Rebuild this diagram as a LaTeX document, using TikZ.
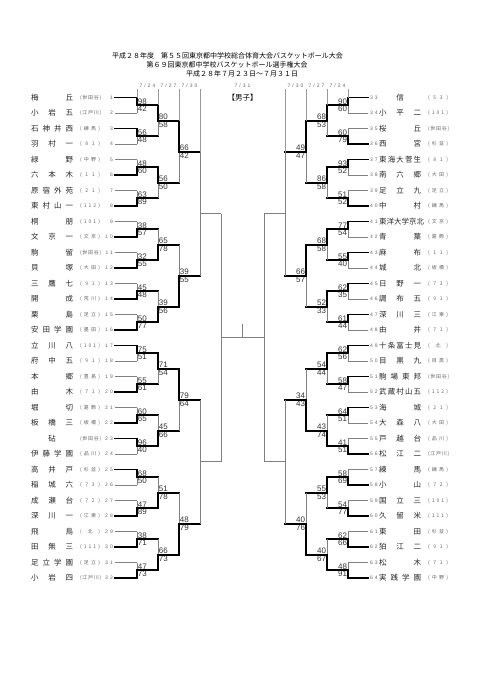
\documentclass[tikz,border=0pt]{standalone}
\usepackage{fontspec}
\setmainfont{Liberation Sans}
\newfontfamily\jp{Noto Sans CJK JP}
\newfontfamily\numfont[LetterSpace=40]{Liberation Sans}
\usetikzlibrary{calc}

% one bout: side, round, bout no., top score, bottom score (0/0 = not played)
\newcommand\bout[5]{%
  \pgfmathtruncatemacro\bta{2*#3-1}%
  \pgfmathtruncatemacro\btb{2*#3}%
  \pgfmathtruncatemacro\bpr{#2-1}%
  \if#1L\def\bdir{west}\else\def\bdir{east}\fi
  \ifnum#2=1
    \edef\bea{t#1\bta}\edef\beb{t#1\btb}%
  \else
    \edef\bea{m#1\bpr-\bta}\edef\beb{m#1\bpr-\btb}%
  \fi
  \coordinate (m#1#2-#3) at ($(\bea -| col#1#2)!0.5!(\beb -| col#1#2)$);
  \def\bsa{lose}\def\bsb{lose}%
  \ifnum#4>#5 \def\bsa{win}\fi
  \ifnum#5>#4 \def\bsb{win}\fi
  \ifnum#2=1
    \draw[\bsa] (a#1\bta) -- (\bea);
    \draw[\bsb] (a#1\btb) -- (\beb);
  \else
    \ifnum\bpr<4 \def\bin{win}\else\def\bin{lose}\fi
    \draw[\bin] (\bea) -- (\bea -| col#1#2);
    \draw[\bin] (\beb) -- (\beb -| col#1#2);
  \fi
  \draw[\bsa] (\bea -| col#1#2) -- (m#1#2-#3);
  \draw[\bsb] (\beb -| col#1#2) -- (m#1#2-#3);
  \ifnum#4>0
    \node[score, anchor=south \bdir] (s#1#2-#3a) at (m#1#2-#3) {#4};
    \node[score, anchor=north \bdir] (s#1#2-#3b) at (m#1#2-#3) {#5};
  \fi
}

\begin{document}
\begin{tikzpicture}[
  x=1pt, y=-1pt,
  win/.style={line width=1.6pt, black, line cap=rect},
  lose/.style={line width=0.6pt, black!50},
  guide/.style={line width=0.5pt, black!40},
  head/.style={font=\jp\fontsize{7}{8}\selectfont, inner sep=0pt},
  team/.style={font=\jp\fontsize{7.5}{9}\selectfont, text=black!85, inner sep=0pt, anchor=west},
  dist/.style={font=\jp\fontsize{5}{6}\selectfont, text=black!60, inner sep=0pt},
  seed/.style={font=\numfont\fontsize{5}{6}\selectfont, text=black!60, inner sep=0pt},
  date/.style={font=\numfont\fontsize{5}{6}\selectfont, text=black!60, inner sep=0pt},
  score/.style={font=\fontsize{8}{9}\selectfont, text=black!80, inner sep=0.7pt},
]
  \useasboundingbox (0,0) rectangle (481,680);

  % ===== heading =====
  \node[head] (ttl1) at (227.5,56) {平成２８年度　第５５回東京都中学校総合体育大会バスケットボール大会};
  \node[head] (ttl2) at (227,65) {第６９回東京都中学校バスケットボール選手権大会};
  \node[head] (ttl3) at (242,73.5) {平成２８年７月２３日～７月３１日};
  \node[head, font=\jp\fontsize{7.5}{9}\selectfont] (grp) at (242.5,98) {【男子】};

  % ===== columns =====
  \coordinate (hdr) at (0,89);
  \coordinate (colL1) at (137,0);
  \coordinate (colL2) at (158,0);
  \coordinate (colL3) at (179,0);
  \coordinate (colL4) at (200,0);
  \coordinate (colL5) at (221,0);
  \coordinate (colR1) at (348,0);
  \coordinate (colR2) at (327,0);
  \coordinate (colR3) at (306,0);
  \coordinate (colR4) at (285,0);
  \coordinate (colR5) at (264,0);

  \node[date] (dayL1) at (147.5,85.5) {7/24};
  \node[date] (dayL2) at (168.5,85.5) {7/27};
  \node[date] (dayL3) at (189.5,85.5) {7/30};
  \node[date] (day0) at (242.5,85.5) {7/31};
  \node[date] (dayR3) at (295.5,85.5) {7/30};
  \node[date] (dayR2) at (316.5,85.5) {7/27};
  \node[date] (dayR1) at (337.5,85.5) {7/24};

  % ===== teams =====
  \foreach \nm/\ds [count=\k] in {梅 丘/( 世 田 谷 ), 小 岩 五/( 江 戸 川 ),
      石 神 井 西/( 練 馬 ), 羽 村 一/( 8 1 ), 緑 野/( 中 野 ), 六 本 木/( 1 1 ),
      原 宿 外 苑/( 2 1 ), 東 村 山 一/( 1 1 2 ), 桐 朋/( 1 0 1 ), 文 京 一/( 文 京 ),
      駒 留/( 世 田 谷 ), 貝 塚/( 大 田 ), 三 鷹 七/( 9 1 ), 開 成/( 荒 川 ),
      栗 島/( 足 立 ), 安 田 学 園/( 墨 田 ), 立 川 八/( 1 0 1 ), 府 中 五/( 9 1 ),
      本 郷/( 豊 島 ), 由 木/( 7 1 ), 堀 切/( 葛 飾 ), 板 橋 三/( 板 橋 ),
      {\hfil 砧\hfil}/( 世 田 谷 ), 伊 藤 学 園/( 品 川 ), 高 井 戸/( 杉 並 ),
      稲 城 六/( 7 3 ), 成 瀬 台/( 7 2 ), 深 川 一/( 江 東 ), 飛 鳥/( 北 ),
      田 無 三/( 1 1 1 ), 足 立 学 園/( 足 立 ), 小 岩 四/( 江 戸 川 )} {
    \pgfmathsetmacro\yy{97.5+(\k-1)*15.5}
    \node[team] (nL\k) at (31,\yy) {\makebox[42pt][s]{\nm}};
    \node[dist] (dL\k) at (90,\yy) {\makebox[20pt][s]{\ds}};
    \node[seed, anchor=east] (sL\k) at (113,\yy) {\k};
    \coordinate (aL\k) at (115,\yy);
    \coordinate (tL\k) at (137,\yy);
  }
  \foreach \nm/\ds [count=\k] in {{\hfil 信\hfil}/( 5 3 ), 小 平 二/( 1 0 1 ),
      桜 丘/( 世 田 谷 ), 西 宮/( 杉 並 ), 東 海 大 菅 生/( 8 1 ), 南 六 郷/( 大 田 ),
      足 立 九/( 足 立 ), 中 村/( 練 馬 ), {東洋大学京北\hfil}/( 文 京 ), 青 葉/( 葛 飾 ),
      麻 布/( 1 1 ), 城 北/( 板 橋 ), 日 野 一/( 7 3 ), 調 布 五/( 9 1 ),
      深 川 三/( 江 東 ), 由 井/( 7 1 ), 十 条 富 士 見/( 北 ), 目 黒 九/( 目 黒 ),
      駒 場 東 邦/( 世 田 谷 ), 武 蔵 村 山 五/( 1 1 2 ), 海 城/( 2 1 ),
      大 森 八/( 大 田 ), 戸 越 台/( 品 川 ), 松 江 二/( 江 戸 川 ), 練 馬/( 練 馬 ),
      小 山/( 7 2 ), 国 立 三/( 1 0 1 ), 久 留 米/( 1 1 1 ), 東 田/( 杉 並 ),
      狛 江 二/( 9 1 ), 松 木/( 7 1 ), 実 践 学 園/( 中 野 )} {
    \pgfmathsetmacro\yy{97.5+(\k-1)*15.5}
    \pgfmathtruncatemacro\no{\k+32}
    \node[team] (nR\k) at (379,\yy) {\makebox[42pt][s]{\nm}};
    \node[dist] (dR\k) at (438,\yy) {\makebox[20pt][s]{\ds}};
    \node[seed, anchor=west] (sR\k) at (370,\yy) {\no};
    \coordinate (aR\k) at (368,\yy);
    \coordinate (tR\k) at (348,\yy);
  }

  % ===== left half =====
  \foreach \ptop/\pbot [count=\m] in {98/42,56/48,48/60,63/89,38/57,32/55,45/48,50/77,
      75/51,55/61,60/65,96/40,68/50,47/89,38/71,47/73}
    {\bout{L}{1}{\m}{\ptop}{\pbot}}
  \foreach \ptop/\pbot [count=\m] in {80/58,56/50,65/78,39/56,71/54,45/66,51/78,66/73}
    {\bout{L}{2}{\m}{\ptop}{\pbot}}
  \foreach \ptop/\pbot [count=\m] in {66/42,39/55,79/64,48/79}
    {\bout{L}{3}{\m}{\ptop}{\pbot}}
  \foreach \m in {1,2} {\bout{L}{4}{\m}{0}{0}}
  \bout{L}{5}{1}{0}{0}

  % ===== right half =====
  \foreach \ptop/\pbot [count=\m] in {90/60,60/79,93/52,51/52,77/54,55/40,62/35,61/44,
      62/56,58/47,64/51,41/51,58/69,54/77,62/66,48/91}
    {\bout{R}{1}{\m}{\ptop}{\pbot}}
  \foreach \ptop/\pbot [count=\m] in {68/53,86/58,68/58,52/33,54/44,43/74,55/53,40/67}
    {\bout{R}{2}{\m}{\ptop}{\pbot}}
  \foreach \ptop/\pbot [count=\m] in {49/47,66/57,34/43,40/76}
    {\bout{R}{3}{\m}{\ptop}{\pbot}}
  \foreach \m in {1,2} {\bout{R}{4}{\m}{0}{0}}
  \bout{R}{5}{1}{0}{0}

  % ===== final =====
  \coordinate (champ) at ($(mL5-1)!0.5!(mR5-1)$);
  \coordinate (champtop) at ($(champ)+(0,-14)$);
  \draw[lose] (mL5-1) -- (mR5-1);
  \draw[lose] (champ) -- (champtop);

  % date guides
  \draw[guide] (hdr -| colL1) -- (tL1);
  \draw[guide] (hdr -| colL2) -- (mL1-1 -| colL2);
  \draw[guide] (hdr -| colL3) -- (mL2-1 -| colL3);
  \draw[guide] (hdr -| colL4) -- (mL3-1 -| colL4);
  \draw[guide] (hdr -| colR1) -- (tR1);
  \draw[guide] (hdr -| colR2) -- (mR1-1 -| colR2);
  \draw[guide] (hdr -| colR3) -- (mR2-1 -| colR3);
  \draw[guide] (hdr -| colR4) -- (mR3-1 -| colR4);
\end{tikzpicture}
\end{document}
